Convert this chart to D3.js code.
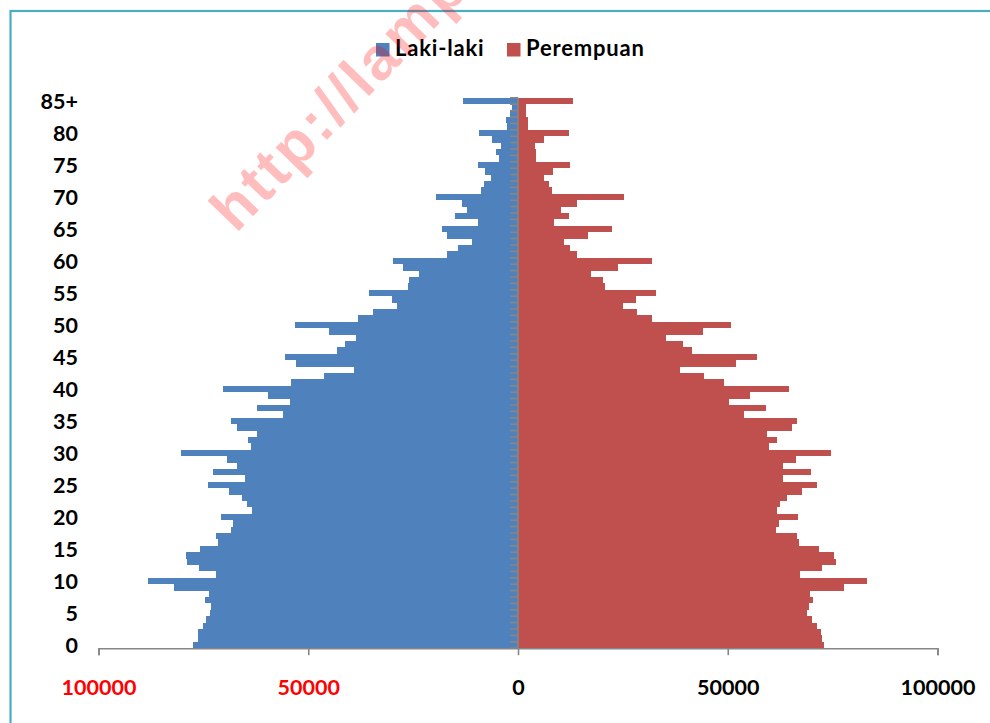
<!DOCTYPE html>
<html>
<head>
<meta charset="utf-8">
<script src="https://cdn.jsdelivr.net/npm/d3@7/dist/d3.min.js"></script>
<style>
  html, body { margin: 0; padding: 0; background: #ffffff; }
  svg { display: block; }
</style>
</head>
<body>
<svg id="chart" width="990" height="723"></svg>
<script>
// ---------------- DATA ----------------
const ageGroups = ["0","1","2","3","4","5","6","7","8","9",
  "10","11","12","13","14","15","16","17","18","19",
  "20","21","22","23","24","25","26","27","28","29",
  "30","31","32","33","34","35","36","37","38","39",
  "40","41","42","43","44","45","46","47","48","49",
  "50","51","52","53","54","55","56","57","58","59",
  "60","61","62","63","64","65","66","67","68","69",
  "70","71","72","73","74","75","76","77","78","79",
  "80","81","82","83","84","85+"];

const lakiLaki = [77500,76400,76200,75100,74300,73500,73200,74700,73600,82100,
  88100,71900,76000,79000,79200,75700,71500,72000,68300,67900,
  70700,63400,64500,65700,69000,73800,65100,72600,67000,69400,
  80300,63700,64400,62200,67100,68300,56000,62300,54400,59600,
  70300,54200,46300,39000,52900,55500,43200,41300,38500,45100,
  53100,38100,34600,28900,30100,35400,26200,26000,23500,27300,
  29800,16900,14300,11000,17000,18000,9500,15000,12100,13400,
  19600,8900,8200,6400,7900,9500,4600,5200,4000,6200,
  9400,2600,2800,1900,1500,13000];

const perempuan = [73000,72500,72200,71200,70000,68900,69400,70400,69600,77600,
  83100,67200,72500,75700,75300,71700,67100,66400,61600,62100,
  66700,61700,62500,64100,67700,71300,63200,69900,63200,66200,
  74600,59800,61700,59400,65200,66500,53900,59000,50300,55400,
  64500,49000,44300,38500,52000,57000,41400,39400,35200,44200,
  50700,31900,28300,25000,28100,33000,20800,20300,17500,23900,
  31900,14100,12500,10900,16800,22500,8700,12200,10300,14100,
  25200,8000,7500,6100,8300,12400,4300,4300,4000,6300,
  12100,2300,2300,1900,1800,13100];

const seriesNames = ["Laki-laki", "Perempuan"];
const seriesColors = ["#4F81BD", "#C0504D"];

const yTickLabels = ["0","5","10","15","20","25","30","35","40","45",
  "50","55","60","65","70","75","80","85+"];

const xTickValues = [-100000, -50000, 0, 50000, 100000];
const xTickLabels = ["100000", "50000", "0", "50000", "100000"];
const xTickColors = ["#FF0000", "#FF0000", "#000000", "#000000", "#000000"];

const watermarkText = "http://lampung.bps.go.id";

// ---------------- LAYOUT ----------------
const svg = d3.select("#chart");
const FONT = "Lato, 'Open Sans', sans-serif";

const plotLeft = 98.5, plotRight = 937.5, plotTop = 97.8, plotBottom = 648.2;

const x = d3.scaleLinear().domain([-100000, 100000]).range([plotLeft, plotRight]);
const y = d3.scaleBand().domain(ageGroups).range([plotBottom, plotTop]).padding(0);
const x0 = x(0);

// outer border (teal)
svg.append("rect")
  .attr("x", 10.5).attr("y", 11)
  .attr("width", 1000).attr("height", 1000)
  .attr("fill", "none")
  .attr("stroke", "#4BACC6")
  .attr("stroke-width", 2.2);

// bars
const gBars = svg.append("g").attr("shape-rendering", "crispEdges");
gBars.selectAll("rect.male")
  .data(ageGroups)
  .join("rect")
  .attr("class", "male")
  .attr("x", (d, i) => x(-lakiLaki[i]))
  .attr("y", d => y(d))
  .attr("width", (d, i) => x0 - x(-lakiLaki[i]))
  .attr("height", y.bandwidth())
  .attr("fill", seriesColors[0]);

gBars.selectAll("rect.female")
  .data(ageGroups)
  .join("rect")
  .attr("class", "female")
  .attr("x", x0)
  .attr("y", d => y(d))
  .attr("width", (d, i) => x(perempuan[i]) - x0)
  .attr("height", y.bandwidth())
  .attr("fill", seriesColors[1]);

// vertical (category) axis line with tick marks at band boundaries
const axisColor = "#868686";
const boundaries = ageGroups.map(a => y(a)).concat([y(ageGroups[0]) + y.bandwidth()]);
svg.append("g").selectAll("line")
  .data(boundaries)
  .join("line")
  .attr("x1", x0 - 8).attr("x2", x0)
  .attr("y1", d => d).attr("y2", d => d)
  .attr("stroke", axisColor).attr("stroke-width", 1.6);
svg.append("line")
  .attr("x1", x0).attr("x2", x0)
  .attr("y1", plotTop).attr("y2", plotBottom)
  .attr("stroke", axisColor).attr("stroke-width", 1.6);

// category labels
svg.append("g").selectAll("text")
  .data(yTickLabels)
  .join("text")
  .attr("x", 78)
  .attr("y", d => y(d) + y.bandwidth() / 2)
  .attr("dy", "0.36em")
  .attr("text-anchor", "end")
  .attr("font-family", FONT)
  .attr("font-weight", 700)
  .attr("font-size", 21.5)
  .attr("fill", "#000")
  .text(d => d);

// horizontal value axis
const xAxis = d3.axisBottom(x)
  .tickValues(xTickValues)
  .tickSize(7)
  .tickPadding(0)
  .tickFormat((d, i) => xTickLabels[i]);
const gx = svg.append("g")
  .attr("transform", `translate(0,${plotBottom})`)
  .call(xAxis);
gx.select(".domain").attr("stroke", axisColor).attr("stroke-width", 1.6);
gx.selectAll(".tick line").attr("stroke", axisColor).attr("stroke-width", 1.6);
gx.selectAll(".tick text")
  .attr("y", 47)
  .attr("dy", 0)
  .attr("font-family", FONT)
  .attr("font-weight", 700)
  .attr("font-size", 21.5)
  .attr("fill", (d, i) => xTickColors[i]);

// legend
const legendItems = [
  { name: seriesNames[0], color: seriesColors[0], sx: 376, tx: 395 },
  { name: seriesNames[1], color: seriesColors[1], sx: 507, tx: 526 }
];
const gLeg = svg.append("g");
legendItems.forEach(it => {
  gLeg.append("rect")
    .attr("x", it.sx).attr("y", 43)
    .attr("width", 13.5).attr("height", 13.5)
    .attr("fill", it.color);
  gLeg.append("text")
    .attr("x", it.tx).attr("y", 56)
    .attr("font-family", FONT)
    .attr("font-weight", 700)
    .attr("font-size", 22)
    .attr("letter-spacing", 0.8)
    .attr("fill", "#000")
    .text(it.name);
});

// watermark
svg.append("text")
  .attr("transform", "translate(236,234) rotate(-46)")
  .attr("font-family", "'Liberation Sans', Arial, sans-serif")
  .attr("font-weight", 700)
  .attr("font-size", 60)
  .attr("letter-spacing", 3)
  .attr("fill", "#FF0000")
  .attr("fill-opacity", 0.26)
  .text(watermarkText);
</script>
</body>
</html>
